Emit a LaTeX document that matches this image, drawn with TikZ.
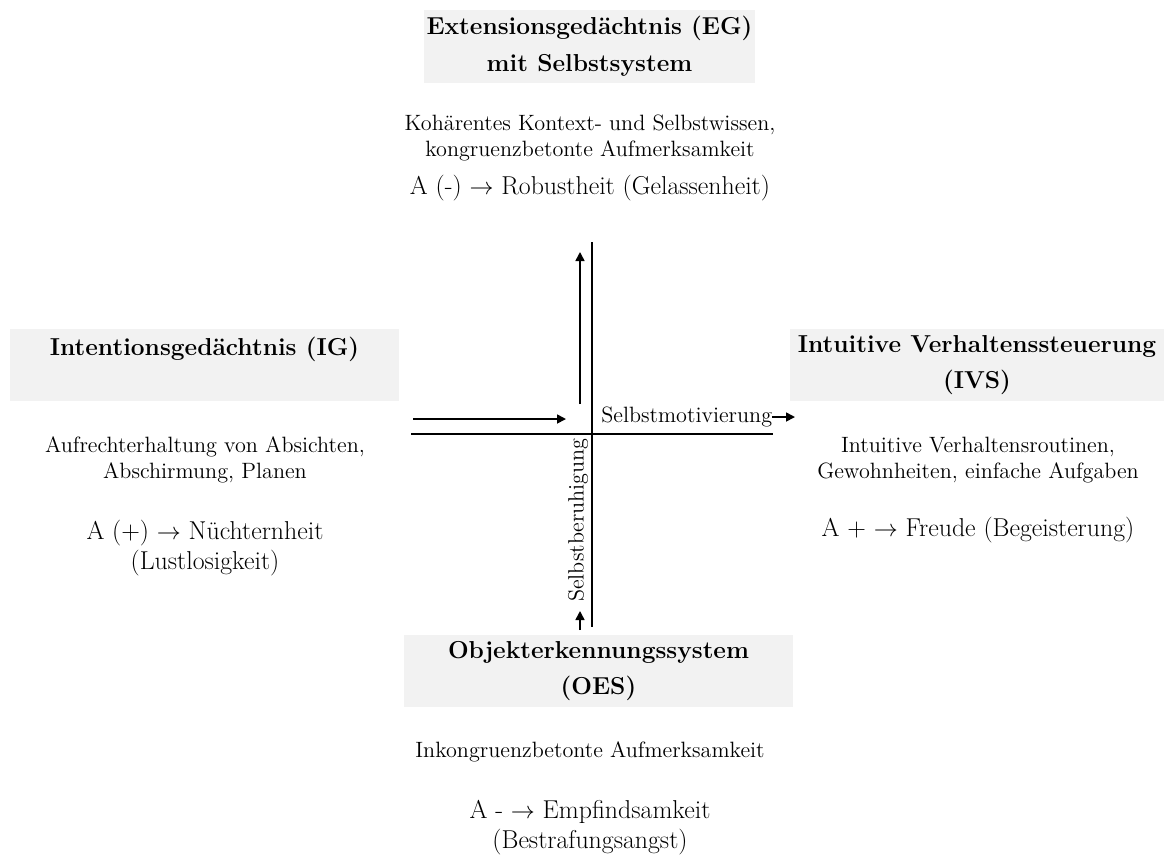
\documentclass[tikz,border=0pt]{standalone}
\usepackage{fontspec}
\usetikzlibrary{arrows.meta}
\definecolor{boxgray}{HTML}{F2F2F2}

\begin{document}
\begin{tikzpicture}[x=0.6pt,y=-0.6pt,
  sysbox/.style={fill=boxgray, align=center, inner sep=0pt, minimum width=233.4pt, minimum height=43.2pt, font=\fontsize{14.7}{22}\selectfont\bfseries},
  desc/.style={align=center, inner sep=0pt, font=\fontsize{13.3}{15.3}\selectfont},
  affect/.style={align=center, inner sep=0pt, font=\fontsize{15.5}{18}\selectfont},
  axis/.style={line width=1pt},
  flow/.style={line width=1pt, -{Triangle[length=5.4pt,width=5.4pt]}}]
\useasboundingbox (0,0) rectangle (1167,856);

% the four systems
\node[sysbox, minimum width=198.6pt, minimum height=43.8pt] (eg) at (589.5,46.5) {Extensionsgedächtnis (EG)\\mit Selbstsystem};
\node[sysbox] (ig) at (204.5,365) {Intentionsgedächtnis (IG)\\\mbox{}};
\node[sysbox, minimum width=224.4pt] (ivs) at (977,365) {Intuitive Verhaltenssteuerung\\(IVS)};
\node[sysbox] (oes) at (598.5,671) {Objekterkennungssystem\\(OES)};

% descriptions
\node[desc] (egtext) at (590,138) {Kohärentes Kontext- und Selbstwissen,\\kongruenzbetonte Aufmerksamkeit};
\node[affect] (egaffect) at (590,188) {A (-) $\rightarrow$ Robustheit (Gelassenheit)};
\node[desc] (igtext) at (205,460) {Aufrechterhaltung von Absichten,\\Abschirmung, Planen};
\node[affect] (igaffect) at (205,548) {A (+) $\rightarrow$ Nüchternheit\\(Lustlosigkeit)};
\node[desc] (ivstext) at (978,460) {Intuitive Verhaltensroutinen,\\Gewohnheiten, einfache Aufgaben};
\node[affect] (ivsaffect) at (978,530) {A + $\rightarrow$ Freude (Begeisterung)};
\node[desc] (oestext) at (590,752) {Inkongruenzbetonte Aufmerksamkeit};
\node[affect] (oesaffect) at (590,828) {A - $\rightarrow$ Empfindsamkeit\\(Bestrafungsangst)};

% axes
\coordinate (vtop) at (592,242);
\coordinate (vbot) at (592,627);
\coordinate (hleft) at (411,434);
\coordinate (hright) at (773,434);
\draw[axis] (vtop) -- (vbot);
\draw[axis] (hleft) -- (hright);

% arrows
\coordinate (inl) at (413,419);
\coordinate (inr) at (566,419);
\draw[flow] (inl) -- (inr);
\coordinate (upbot) at (580,404);
\coordinate (uptop) at (580,252);
\draw[flow] (upbot) -- (uptop);

\node[desc, anchor=west] (motiv) at (601,417) {Selbstmotivierung};
\coordinate (motivend) at (795,417);
\draw[flow] (motiv.east) -- (motivend);

\node[desc, rotate=90] (beruh) at (578,520) {Selbstberuhigung};
\coordinate (beruhstart) at (580,630);
\coordinate (beruhtip) at (580,611);
\draw[flow] (beruhstart) -- (beruhtip);
\end{tikzpicture}
\end{document}
